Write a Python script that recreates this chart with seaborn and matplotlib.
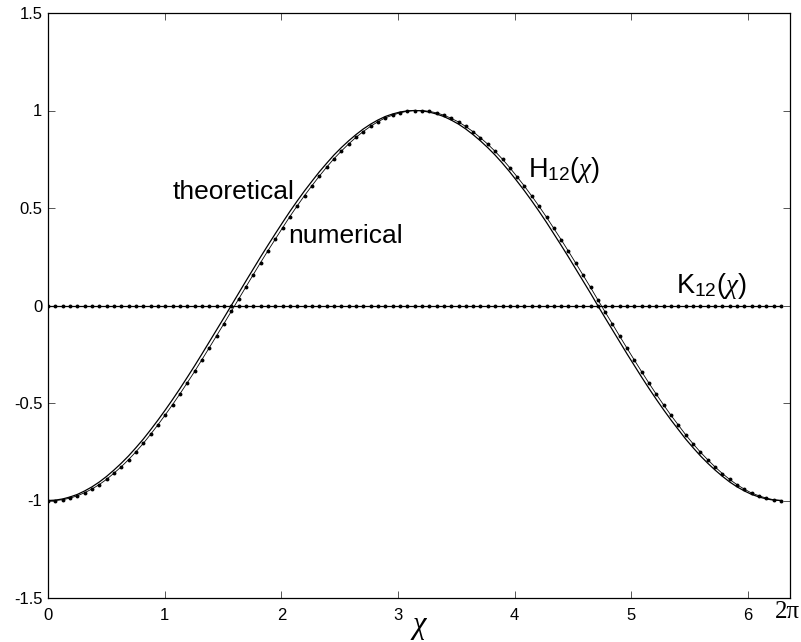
import matplotlib
matplotlib.use("Agg")
import matplotlib.pyplot as plt
import seaborn as sns
import pandas as pd

# 1. data
chi = [0.000, 0.063, 0.126, 0.188, 0.251, 0.314, 0.377, 0.440, 0.503, 0.565,
       0.628, 0.691, 0.754, 0.817, 0.880, 0.942, 1.005, 1.068, 1.131, 1.194,
       1.257, 1.319, 1.382, 1.445, 1.508, 1.571, 1.634, 1.696, 1.759, 1.822,
       1.885, 1.948, 2.011, 2.073, 2.136, 2.199, 2.262, 2.325, 2.388, 2.450,
       2.513, 2.576, 2.639, 2.702, 2.765, 2.827, 2.890, 2.953, 3.016, 3.079,
       3.142, 3.204, 3.267, 3.330, 3.393, 3.456, 3.519, 3.581, 3.644, 3.707,
       3.770, 3.833, 3.896, 3.958, 4.021, 4.084, 4.147, 4.210, 4.273, 4.335,
       4.398, 4.461, 4.524, 4.587, 4.650, 4.712, 4.775, 4.838, 4.901, 4.964,
       5.027, 5.089, 5.152, 5.215, 5.278, 5.341, 5.404, 5.466, 5.529, 5.592,
       5.655, 5.718, 5.781, 5.843, 5.906, 5.969, 6.032, 6.095, 6.158, 6.220,
       6.283]

h12_theory = [-1.000, -0.998, -0.992, -0.982, -0.969, -0.951, -0.930, -0.905, -0.876, -0.844,
              -0.809, -0.771, -0.729, -0.685, -0.637, -0.588, -0.536, -0.482, -0.426, -0.368,
              -0.309, -0.249, -0.187, -0.125, -0.063, 0.000, 0.063, 0.125, 0.187, 0.249,
              0.309, 0.368, 0.426, 0.482, 0.536, 0.588, 0.637, 0.685, 0.729, 0.771,
              0.809, 0.844, 0.876, 0.905, 0.930, 0.951, 0.969, 0.982, 0.992, 0.998,
              1.000, 0.998, 0.992, 0.982, 0.969, 0.951, 0.930, 0.905, 0.876, 0.844,
              0.809, 0.771, 0.729, 0.685, 0.637, 0.588, 0.536, 0.482, 0.426, 0.368,
              0.309, 0.249, 0.187, 0.125, 0.063, 0.000, -0.063, -0.125, -0.187, -0.249,
              -0.309, -0.368, -0.426, -0.482, -0.536, -0.588, -0.637, -0.685, -0.729, -0.771,
              -0.809, -0.844, -0.876, -0.905, -0.930, -0.951, -0.969, -0.982, -0.992, -0.998,
              -1.000]

h12_numeric = [-1.000, -1.000, -0.996, -0.988, -0.976, -0.960, -0.941, -0.918, -0.891, -0.860,
               -0.827, -0.790, -0.750, -0.707, -0.660, -0.612, -0.561, -0.508, -0.453, -0.396,
               -0.338, -0.278, -0.217, -0.155, -0.093, -0.030, 0.033, 0.095, 0.158, 0.220,
               0.281, 0.340, 0.399, 0.456, 0.511, 0.564, 0.614, 0.663, 0.709, 0.752,
               0.791, 0.828, 0.862, 0.892, 0.919, 0.942, 0.962, 0.976, 0.988, 0.996,
               1.000, 1.000, 0.996, 0.988, 0.976, 0.960, 0.941, 0.918, 0.891, 0.860,
               0.827, 0.790, 0.750, 0.707, 0.660, 0.612, 0.561, 0.508, 0.453, 0.396,
               0.338, 0.278, 0.217, 0.155, 0.093, 0.030, -0.033, -0.095, -0.158, -0.220,
               -0.281, -0.340, -0.399, -0.456, -0.511, -0.564, -0.614, -0.663, -0.709, -0.752,
               -0.791, -0.828, -0.862, -0.892, -0.919, -0.942, -0.962, -0.976, -0.988, -0.996,
               -1.000]

k12_theory = [0.0] * 101
k12_numeric = [0.0] * 101

x_ticks = [0, 1, 2, 3, 4, 5, 6]
x_tick_labels = ['0', '1', '2', '3', '4', '5', '6']
y_ticks = [-1.5, -1, -0.5, 0, 0.5, 1, 1.5]
y_tick_labels = ['-1.5', '-1', '-0.5', '0', '0.5', '1', '1.5']

# 2. style
sns.set_theme(style='ticks')
plt.rcParams['font.family'] = ['Liberation Sans', 'DejaVu Sans']
plt.rcParams['mathtext.fontset'] = 'custom'
plt.rcParams['mathtext.rm'] = 'Liberation Sans'
plt.rcParams['mathtext.it'] = 'Liberation Serif:italic'
plt.rcParams['axes.edgecolor'] = 'black'
plt.rcParams['axes.linewidth'] = 0.9
plt.rcParams['text.color'] = 'black'
plt.rcParams['axes.labelcolor'] = 'black'
plt.rcParams['xtick.color'] = 'black'
plt.rcParams['ytick.color'] = 'black'

df = pd.DataFrame({'chi': chi, 'h_th': h12_theory, 'h_num': h12_numeric,
                   'k_th': k12_theory, 'k_num': k12_numeric})

fig = plt.figure(figsize=(8.01, 6.42), dpi=100)
ax = fig.add_axes([48 / 801, 1 - 598 / 642, 742 / 801, 585 / 642])

# 3. plot
sns.lineplot(data=df, x='chi', y='h_th', color='black', linewidth=0.9, ax=ax)
sns.lineplot(data=df, x='chi', y='k_th', color='black', linewidth=0.9, ax=ax)
sns.lineplot(data=df, x='chi', y='h_num', color='black', linewidth=0.6,
             marker='o', markersize=2.8, markeredgewidth=0, ax=ax)
sns.lineplot(data=df, x='chi', y='k_num', color='black', linewidth=0.6,
             marker='o', markersize=2.8, markeredgewidth=0, ax=ax)

ax.set_xlim(0, 6.36)
ax.set_ylim(-1.5, 1.5)
ax.set_xticks(x_ticks)
ax.set_xticklabels(x_tick_labels)
ax.set_yticks(y_ticks)
ax.set_yticklabels(y_tick_labels)
ax.tick_params(direction='in', top=True, right=True, length=5, width=0.7,
               color='#555555', labelsize=12, labelcolor='black')
ax.tick_params(axis='x', pad=7)
ax.tick_params(axis='y', pad=4)
for s in ax.spines.values():
    s.set_visible(True)
    s.set_color('black')

ax.set_xlabel(r'$\chi$', fontsize=22, labelpad=-8)
ax.set_ylabel('')

# labels on the curves
ax.text(1.071, 0.546, 'theoretical', fontsize=19, ha='left', va='baseline')
ax.text(2.057, 0.321, 'numerical', fontsize=19, ha='left', va='baseline')
ax.text(4.113, 0.659, r'H$_{12}$($\chi$)', fontsize=19.5, ha='left', va='baseline')
ax.text(5.381, 0.064, r'K$_{12}$($\chi$)', fontsize=19.5, ha='left', va='baseline')

fig.text(787 / 801, 1 - 612 / 642, '2π', fontsize=18, ha='center', va='center',
         family=['Liberation Serif', 'DejaVu Serif'])

fig.savefig('out.png', dpi=100)
